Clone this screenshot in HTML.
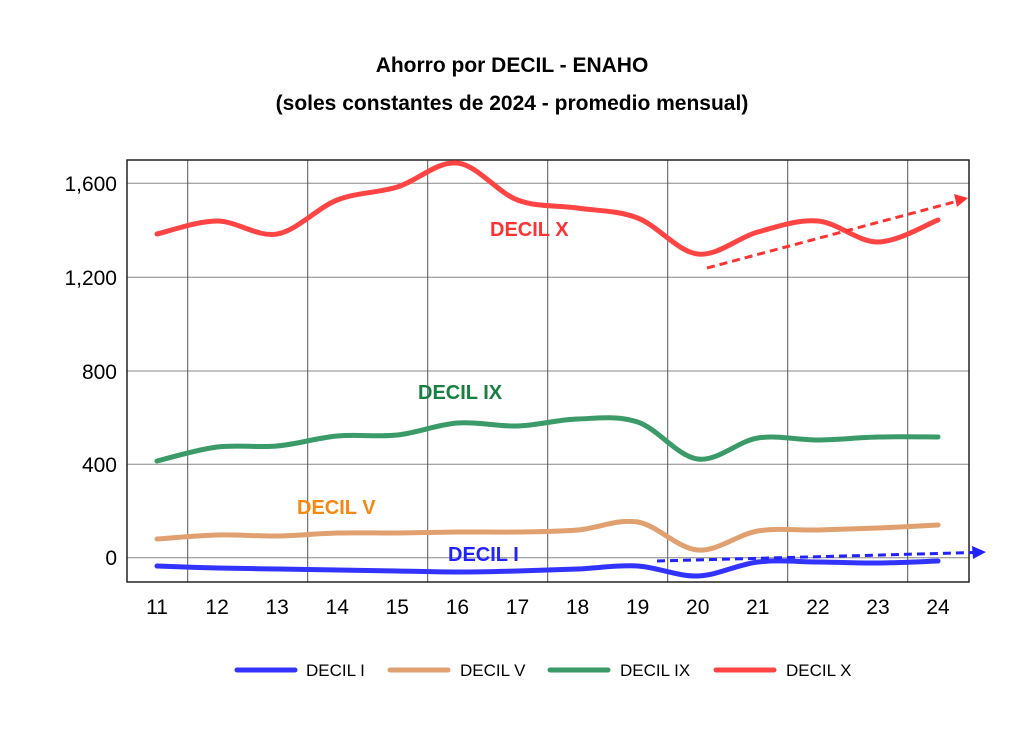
<!DOCTYPE html>
<html><head><meta charset="utf-8"><style>
body{margin:0;background:#fff}
svg text{font-family:"Liberation Sans",Arial,sans-serif}
</style></head><body>
<svg id="s" width="1024" height="742" xmlns="http://www.w3.org/2000/svg">
<rect width="1024" height="742" fill="#fff"/>
<text x="512" y="72" text-anchor="middle" font-size="21" font-weight="bold">Ahorro por DECIL - ENAHO</text>
<text x="512" y="110" text-anchor="middle" font-size="21" font-weight="bold">(soles constantes de 2024 - promedio mensual)</text>
<g stroke="#888" stroke-width="1">
<line x1="127" x2="969" y1="183.3" y2="183.3"/><line x1="127" x2="969" y1="277.3" y2="277.3"/>
<line x1="127" x2="969" y1="371" y2="371"/><line x1="127" x2="969" y1="464.3" y2="464.3"/>
<line x1="127" x2="969" y1="557.7" y2="557.7"/>
</g>
<g stroke="#555" stroke-width="1">
<line x1="187.7" x2="187.7" y1="160" y2="582"/><line x1="307.7" x2="307.7" y1="160" y2="582"/>
<line x1="427.7" x2="427.7" y1="160" y2="582"/><line x1="547.7" x2="547.7" y1="160" y2="582"/>
<line x1="667.7" x2="667.7" y1="160" y2="582"/><line x1="787.7" x2="787.7" y1="160" y2="582"/>
<line x1="907.7" x2="907.7" y1="160" y2="582"/>
</g>
<rect x="127" y="160" width="842" height="422" fill="none" stroke="#222" stroke-width="1.5"/>
<g font-size="21" text-anchor="end">
<text x="117" y="191">1,600</text><text x="117" y="285">1,200</text><text x="117" y="379">800</text><text x="117" y="472">400</text><text x="117" y="565">0</text>
</g>
<g font-size="21" text-anchor="middle" id="xl"></g>
<g id="lines" fill="none" stroke-width="5" stroke-linecap="round"></g>
<line x1="707" y1="268" x2="958" y2="201" stroke="#f33" stroke-width="3" stroke-dasharray="8,5"/>
<polygon points="968,198 954,194 957,207" fill="#f33"/>
<line x1="657" y1="561" x2="975" y2="552.5" stroke="#22f" stroke-width="3" stroke-dasharray="8,5"/>
<polygon points="986,552 972,546 973,559" fill="#22f"/>
<g font-size="20" font-weight="bold">
<text x="490" y="236" fill="#f33">DECIL X</text>
<text x="418" y="399" fill="#178040">DECIL IX</text>
<text x="297" y="514" fill="#f7880f">DECIL V</text>
<text x="448" y="561" fill="#22f">DECIL I</text>
</g>
<g stroke-width="5" stroke-linecap="round">
<line x1="237" x2="295" y1="670" y2="670" stroke="#33f"/>
<line x1="390" x2="448" y1="670" y2="670" stroke="#e0a070"/>
<line x1="550" x2="608" y1="670" y2="670" stroke="#3a9a68"/>
<line x1="716" x2="774" y1="670" y2="670" stroke="#f44"/>
</g>
<g font-size="17">
<text x="306" y="676">DECIL I</text><text x="460" y="676">DECIL V</text>
<text x="620" y="676">DECIL IX</text><text x="786" y="676">DECIL X</text>
</g>
</svg>
<script>
var X=[];for(var i=0;i<14;i++)X.push(157+i*60.08);
var xl=document.getElementById('xl'),ns="http://www.w3.org/2000/svg";
X.forEach(function(x,i){var t=document.createElementNS(ns,'text');t.setAttribute('x',x);t.setAttribute('y',614);t.textContent=11+i;xl.appendChild(t);});
var S=[
["#33f",[566,568,569,570,571,572,571,569,566,576,562,562,563,561]],
["#e0a070",[539,535,536,533,533,532,532,530,522,550,531,530,528,525]],
["#3a9a68",[461,447,446,436,435,423,426,419,422,459,438,440,437,437]],
["#f44",[234,221,234,200,187,163,200,208,218,254,232,221,242,220]]];
var g=document.getElementById('lines');
S.forEach(function(s){var Y=s[1],d="M"+X[0]+","+Y[0];
for(var i=0;i<13;i++){var p0=i?i-1:0,p3=i+2<14?i+2:13;
var c1x=X[i]+(X[i+1]-X[p0])/6,c1y=Y[i]+(Y[i+1]-Y[p0])/6,c2x=X[i+1]-(X[p3]-X[i])/6,c2y=Y[i+1]-(Y[p3]-Y[i])/6;
d+=" C"+c1x+","+c1y+" "+c2x+","+c2y+" "+X[i+1]+","+Y[i+1];}
var p=document.createElementNS(ns,'path');p.setAttribute('d',d);p.setAttribute('stroke',s[0]);g.appendChild(p);});
</script>
</body></html>
